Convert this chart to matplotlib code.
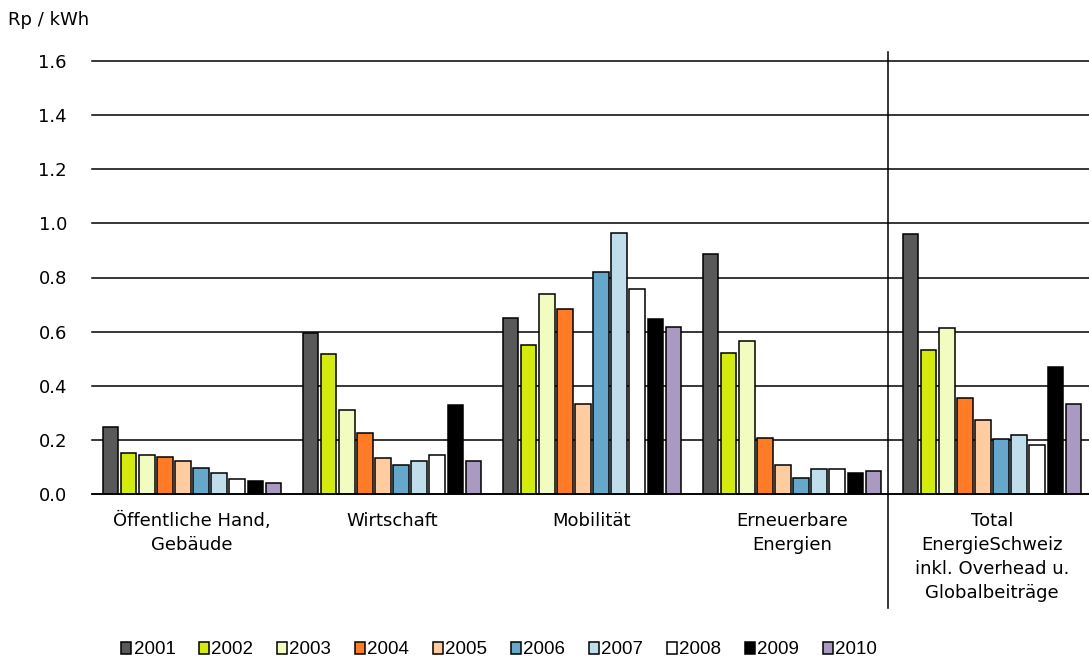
import matplotlib
matplotlib.use("Agg")
import matplotlib.pyplot as plt
import numpy as np

categories = ["Öffentliche Hand,\nGebäude", "Wirtschaft", "Mobilität",
              "Erneuerbare\nEnergien",
              "Total\nEnergieSchweiz\ninkl. Overhead u.\nGlobalbeiträge"]
years = ["2001", "2002", "2003", "2004", "2005", "2006", "2007", "2008", "2009", "2010"]
values = {
    "2001": [0.248, 0.595, 0.649, 0.887, 0.960],
    "2002": [0.150, 0.517, 0.552, 0.522, 0.533],
    "2003": [0.144, 0.309, 0.740, 0.564, 0.612],
    "2004": [0.138, 0.224, 0.685, 0.206, 0.356],
    "2005": [0.121, 0.133, 0.334, 0.108, 0.272],
    "2006": [0.096, 0.108, 0.819, 0.060, 0.204],
    "2007": [0.078, 0.121, 0.966, 0.091, 0.217],
    "2008": [0.054, 0.145, 0.759, 0.091, 0.181],
    "2009": [0.049, 0.329, 0.646, 0.079, 0.468],
    "2010": [0.041, 0.121, 0.618, 0.085, 0.334],
}
colors = ["#595959", "#D4EB0F", "#F2FBC0", "#FF7B26", "#FFCC9F",
          "#66A8CB", "#C0DDEB", "#FFFFFF", "#000000", "#AA9AC2"]
yticks = [0.0, 0.2, 0.4, 0.6, 0.8, 1.0, 1.2, 1.4, 1.6]

W, H = 1089, 664
fig = plt.figure(figsize=(W / 100, H / 100), dpi=100)
ax = fig.add_axes([92 / W, 1 - 494 / H, 997 / W, 433 / H])

x = np.arange(len(categories))
slot = 0.0905
bw = 0.078
n = len(years)
for i, y in enumerate(years):
    ax.bar(x + (i - (n - 1) / 2) * slot, values[y], width=bw, color=colors[i],
           edgecolor="black", linewidth=1.1, label=y, zorder=3)

ax.set_xlim(-0.5, 4.485)
ax.set_ylim(0, 1.6)
ax.set_yticks(yticks)
ax.set_yticklabels([f"{v:.1f}" for v in yticks], fontsize=13, family="DejaVu Sans")
ax.yaxis.grid(True, color="black", linewidth=1.1, zorder=0)
for gl in ax.get_ygridlines():
    gl.set_clip_on(False)
ax.set_axisbelow(True)
ax.tick_params(axis="y", length=0, pad=18)
ax.set_xticks(x)
ax.set_xticklabels(categories, fontsize=13, family="DejaVu Sans", linespacing=1.43)
ax.tick_params(axis="x", length=0, pad=13)
for s in ["top", "right", "left"]:
    ax.spines[s].set_visible(False)
ax.spines["bottom"].set_color("black")
ax.spines["bottom"].set_linewidth(1.2)
ax.spines["bottom"].set_zorder(4)

# separator line before the Total group
ax.plot([3.48, 3.48], [1.021, -0.263], color="black", linewidth=1.1,
        transform=ax.get_xaxis_transform(), clip_on=False, zorder=5)

fig.text(8 / W, 1 - 20 / H, "Rp / kWh", fontsize=13, family="DejaVu Sans",
         ha="left", va="center")

leg = fig.legend(loc="center", bbox_to_anchor=(499 / W, 1 - 650 / H), ncol=10,
                 frameon=False, prop={"family": "Liberation Sans", "size": 13.5},
                 handlelength=0.55, handleheight=0.55, handletextpad=0.12,
                 columnspacing=1.25, borderaxespad=0)

fig.savefig("out.png", dpi=100)
